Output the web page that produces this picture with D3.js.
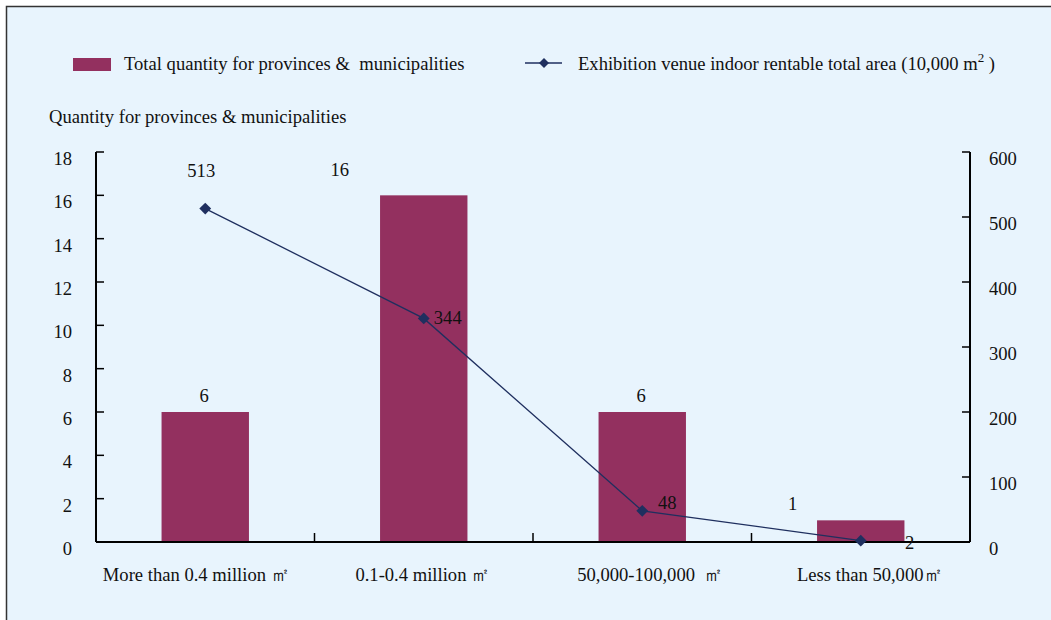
<!DOCTYPE html>
<html>
<head>
<meta charset="utf-8">
<script src="https://cdn.jsdelivr.net/npm/d3@7"></script>
<style>
  body { margin: 0; background: #fff; }
  svg text { font-family: "Liberation Serif", "Times New Roman", serif; fill: #111; }
</style>
</head>
<body>
<div id="chart"></div>
<script>
// Data
var categories = ["More than 0.4 million ㎡", "0.1-0.4 million ㎡", "50,000-100,000  ㎡", "Less than 50,000㎡"];
var quantities = [6, 16, 6, 1];
var areas = [513, 344, 48, 2];
var leftTicks = [0, 2, 4, 6, 8, 10, 12, 14, 16, 18];
var rightTicks = [0, 100, 200, 300, 400, 500, 600];

function drawChart() {
    var width = 1051,
        height = 620,
        fs = 18.6,
        barColor = "#93305f",
        lineColor = "#1f2f5f";

    var svg = d3.select("#chart").append("svg")
        .attr("width", width)
        .attr("height", height);

    // frame
    svg.append("rect")
        .attr("x", 6.5).attr("y", 6.5)
        .attr("width", 1060).attr("height", 640)
        .attr("fill", "#e8f4fd")
        .attr("stroke", "#333")
        .attr("stroke-width", 1.5);

    var pLeft = 96, pRight = 970, pTop = 152, pBottom = 542;

    var x = d3.scaleBand()
        .domain(categories)
        .range([pLeft, pRight])
        .paddingInner(0.6)
        .paddingOuter(0.3);

    var step = (pRight - pLeft) / categories.length;

    var yL = d3.scaleLinear().domain([0, 18]).range([pBottom, pTop]);
    var yR = d3.scaleLinear().domain([0, 600]).range([pBottom, pTop]);

    // bars
    svg.selectAll(".bar")
        .data(quantities)
        .enter().append("rect")
        .attr("class", "bar")
        .attr("x", function(d, i) { return x(categories[i]); })
        .attr("y", function(d) { return yL(d); })
        .attr("width", x.bandwidth())
        .attr("height", function(d) { return yL(0) - yL(d); })
        .attr("fill", barColor);

    // left axis
    svg.append("line")
        .attr("x1", pLeft).attr("x2", pLeft)
        .attr("y1", pTop).attr("y2", pBottom)
        .attr("stroke", "#000").attr("stroke-width", 2);
    svg.selectAll(".ltick")
        .data(leftTicks)
        .enter().append("line")
        .attr("x1", pLeft).attr("x2", pLeft + 8)
        .attr("y1", function(d) { return yL(d); })
        .attr("y2", function(d) { return yL(d); })
        .attr("stroke", "#000").attr("stroke-width", 1.5);
    svg.selectAll(".llab")
        .data(leftTicks)
        .enter().append("text")
        .attr("x", 72)
        .attr("y", function(d) { return yL(d) + 13; })
        .attr("text-anchor", "end")
        .attr("font-size", fs)
        .text(function(d) { return d; });

    // right axis
    svg.append("line")
        .attr("x1", pRight).attr("x2", pRight)
        .attr("y1", pTop).attr("y2", pBottom)
        .attr("stroke", "#000").attr("stroke-width", 2);
    svg.selectAll(".rtick")
        .data(rightTicks)
        .enter().append("line")
        .attr("x1", pRight - 8).attr("x2", pRight)
        .attr("y1", function(d) { return yR(d); })
        .attr("y2", function(d) { return yR(d); })
        .attr("stroke", "#000").attr("stroke-width", 1.5);
    svg.selectAll(".rlab")
        .data(rightTicks)
        .enter().append("text")
        .attr("x", 989)
        .attr("y", function(d) { return yR(d) + 13; })
        .attr("font-size", fs)
        .text(function(d) { return d; });

    // x axis
    svg.append("line")
        .attr("x1", pLeft).attr("x2", pRight)
        .attr("y1", pBottom).attr("y2", pBottom)
        .attr("stroke", "#000").attr("stroke-width", 2);
    svg.selectAll(".xtick")
        .data(categories.slice(1))
        .enter().append("line")
        .attr("x1", function(d, i) { return pLeft + step * (i + 1); })
        .attr("x2", function(d, i) { return pLeft + step * (i + 1); })
        .attr("y1", pBottom).attr("y2", pBottom - 9)
        .attr("stroke", "#000").attr("stroke-width", 1.5);
    var xLabelDx = [-9, -1, 8, 9];
    svg.selectAll(".xlab")
        .data(categories)
        .enter().append("text")
        .attr("x", function(d, i) { return x(d) + x.bandwidth() / 2 + xLabelDx[i]; })
        .attr("y", 581)
        .attr("text-anchor", "middle")
        .attr("font-size", fs)
        .attr("xml:space", "preserve")
        .text(function(d) { return d; });

    // bar labels
    var barLabelDx = [0, -83, 0, -67];
    svg.selectAll(".blab")
        .data(quantities)
        .enter().append("text")
        .attr("x", function(d, i) { return x(categories[i]) + x.bandwidth() / 2 + barLabelDx[i] - 1; })
        .attr("y", function(d, i) { return i === 1 ? 176 : yL(d) - 10; })
        .attr("text-anchor", "middle")
        .attr("font-size", fs)
        .text(function(d) { return d; });

    // line
    var cx = function(i) { return x(categories[i]) + x.bandwidth() / 2; };
    var line = d3.line()
        .x(function(d, i) { return cx(i); })
        .y(function(d) { return yR(d); });

    svg.append("path")
        .datum(areas)
        .attr("d", line)
        .attr("fill", "none")
        .attr("stroke", lineColor)
        .attr("stroke-width", 1.3);

    svg.selectAll(".pt")
        .data(areas)
        .enter().append("path")
        .attr("d", d3.symbol().type(d3.symbolSquare).size(70))
        .attr("transform", function(d, i) { return "translate(" + cx(i) + "," + yR(d) + ") rotate(45)"; })
        .attr("fill", lineColor);

    // line labels
    var lineLabelPos = [[-4, -32], [24, 6], [25, -2], [49, 8]];
    svg.selectAll(".alab")
        .data(areas)
        .enter().append("text")
        .attr("x", function(d, i) { return cx(i) + lineLabelPos[i][0]; })
        .attr("y", function(d, i) { return yR(d) + lineLabelPos[i][1]; })
        .attr("text-anchor", "middle")
        .attr("font-size", fs)
        .text(function(d) { return d; });

    // legend
    svg.append("rect")
        .attr("x", 73).attr("y", 58)
        .attr("width", 38).attr("height", 13)
        .attr("fill", barColor);
    svg.append("text")
        .attr("x", 124).attr("y", 70)
        .attr("font-size", fs)
        .attr("xml:space", "preserve")
        .text("Total quantity for provinces &  municipalities");

    svg.append("line")
        .attr("x1", 525).attr("x2", 562)
        .attr("y1", 63).attr("y2", 63)
        .attr("stroke", lineColor).attr("stroke-width", 1.3);
    svg.append("path")
        .attr("d", d3.symbol().type(d3.symbolSquare).size(50))
        .attr("transform", "translate(544,63) rotate(45)")
        .attr("fill", lineColor);
    var lt = svg.append("text")
        .attr("x", 578).attr("y", 70)
        .attr("font-size", fs)
        .attr("xml:space", "preserve");
    lt.append("tspan").text("Exhibition venue indoor rentable total area (10,000 m");
    lt.append("tspan").attr("dy", -8).attr("font-size", 13).text("2");
    lt.append("tspan").attr("dy", 8).text(" )");

    // y-axis title
    svg.append("text")
        .attr("x", 49).attr("y", 123)
        .attr("font-size", fs)
        .text("Quantity for provinces & municipalities");
}

drawChart();
</script>
</body>
</html>
